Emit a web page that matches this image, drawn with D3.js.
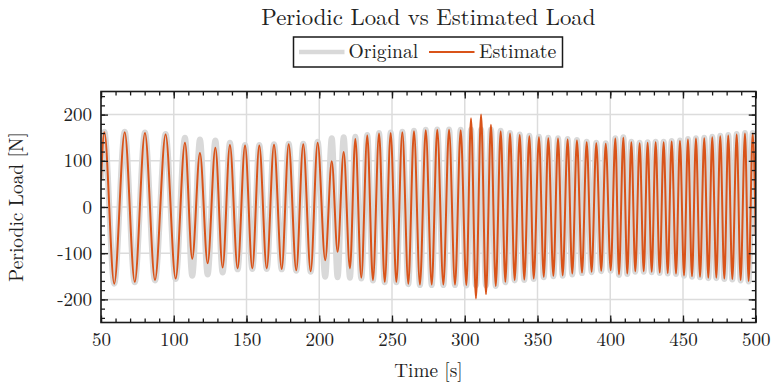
<!DOCTYPE html>
<html>
<head>
<meta charset="utf-8">
<script src="https://cdn.jsdelivr.net/npm/d3@7"></script>
<style>
  body { margin: 0; background: #fff; }
</style>
</head>
<body>
<div id="container"></div>
<script>
let w = 771;
let h = 386;
let serifFont = "'Latin Modern Roman', 'CMU Serif', 'Liberation Serif', serif";

// times of each peak / trough (first and last are the ends)
let extremaTime = [
  50.0, 52.3, 59.1, 66.3, 73.2, 80.2, 87.1, 94.4, 101.3, 107.7,
  112.7, 118.0, 123.3, 128.6, 133.6, 138.6, 143.9, 149.0, 154.0, 158.8,
  163.9, 168.9, 174.2, 179.0, 184.2, 189.0, 194.1, 198.9, 204.1, 208.6,
  212.6, 216.8, 221.1, 224.8, 228.9, 233.0, 236.9, 241.1, 245.0, 249.1,
  253.0, 257.1, 261.2, 265.1, 269.2, 273.2, 277.3, 281.1, 285.3, 289.2,
  293.3, 297.2, 301.1, 304.3, 307.7, 311.2, 314.6, 318.0, 321.3, 324.7,
  327.9, 331.1, 334.3, 337.8, 340.9, 344.4, 347.4, 351.0, 354.3, 357.4,
  360.9, 364.1, 367.3, 370.7, 373.9, 377.1, 380.6, 383.8, 387.2, 390.4,
  393.8, 396.9, 400.3, 403.5, 406.0, 409.0, 411.7, 414.5, 417.2, 420.2,
  423.0, 425.7, 428.5, 431.2, 434.0, 436.7, 439.5, 442.2, 445.2, 447.9,
  450.7, 453.4, 456.2, 458.9, 461.7, 464.6, 467.4, 470.1, 472.9, 475.6,
  478.4, 481.1, 483.9, 486.9, 489.6, 492.6, 495.1, 497.9, 500.0
];

let estimateLoad = [
  57, 162, -166, 162, -162, 160, -158, 157, -155, 139,
  -112, 117, -122, 128, -131, 134, -133, 133, -133, 133,
  -133, 135, -134, 136, -137, 136, -139, 139, -115, 99,
  -97, 119, -133, 147, -153, 155, -158, 159, -162, 160,
  -162, 162, -166, 164, -168, 166, -168, 167, -168, 167,
  -168, 166, -169, 192, -198, 200, -189, 178, -171, 164,
  -162, 159, -158, 156, -157, 153, -155, 151, -151, 149,
  -149, 148, -148, 146, -144, 144, -142, 140, -140, 138,
  -138, 137, -137, 148, -146, 150, -144, 140, -139, 138,
  -139, 139, -140, 140, -142, 140, -143, 142, -144, 143,
  -148, 146, -150, 148, -151, 149, -153, 151, -153, 153,
  -155, 155, -156, 157, -158, 159, -160, 159, -61
];

let originalLoad = [
  57, 163, -166, 163, -163, 161, -159, 158, -156, 150,
  -149, 146, -146, 144, -142, 139, -135, 134, -134, 134,
  -134, 136, -135, 137, -138, 137, -140, 141, -151, 149,
  -152, 151, -153, 152, -155, 156, -159, 160, -163, 161,
  -163, 163, -167, 165, -169, 167, -169, 168, -169, 168,
  -169, 167, -170, 168, -170, 168, -170, 168, -171, 165,
  -163, 160, -159, 157, -158, 154, -156, 152, -152, 150,
  -150, 149, -149, 147, -146, 145, -143, 141, -141, 139,
  -139, 138, -138, 149, -147, 151, -145, 141, -140, 139,
  -140, 140, -141, 141, -143, 141, -144, 143, -145, 144,
  -149, 147, -151, 149, -152, 150, -154, 152, -154, 154,
  -156, 156, -157, 158, -159, 160, -161, 160, -62
];

let xTickValues = [50, 100, 150, 200, 250, 300, 350, 400, 450, 500];
let yTickValues = [-200, -100, 0, 100, 200];
let seriesNames = ["Original", "Estimate"];

let viz = d3.select("#container")
  .append("svg")
  .attr("width", w)
  .attr("height", h)
  .style("background-color", "white")
  ;

let plotLeft = 101, plotRight = 755.75, plotTop = 91.5, plotBottom = 322.5;

let xScale = d3.scaleLinear().domain([50, 500]).range([plotLeft, plotRight]);
let yScale = d3.scaleLinear().domain([-250, 250]).range([plotBottom, plotTop]);

// grid
let grid = viz.append("g").attr("class", "grid");
grid.selectAll(".vgrid").data(xTickValues).enter()
  .append("line")
  .attr("x1", d => xScale(d)).attr("x2", d => xScale(d))
  .attr("y1", plotTop).attr("y2", plotBottom)
  .attr("stroke", "#dcdcdc").attr("stroke-width", 1.5);
grid.selectAll(".hgrid").data(yTickValues).enter()
  .append("line")
  .attr("x1", plotLeft).attr("x2", plotRight)
  .attr("y1", d => yScale(d)).attr("y2", d => yScale(d))
  .attr("stroke", "#dcdcdc").attr("stroke-width", 1.5);

viz.append("clipPath").attr("id", "plotClip")
  .append("rect")
  .attr("x", plotLeft).attr("y", plotTop)
  .attr("width", plotRight - plotLeft).attr("height", plotBottom - plotTop);

function makePoints(values) {
  return extremaTime.map((t, i) => ({ t: t, v: values[i] }));
}

let lineMaker = d3.line()
  .x(d => xScale(d.t))
  .y(d => yScale(d.v))
  .curve(d3.curveMonotoneX);

let lines = viz.append("g").attr("clip-path", "url(#plotClip)");

lines.append("path")
  .datum(makePoints(originalLoad))
  .attr("d", lineMaker)
  .attr("fill", "none")
  .attr("stroke", "#d9d9d9")
  .attr("stroke-width", 6)
  .attr("stroke-linejoin", "round");

lines.append("path")
  .datum(makePoints(estimateLoad))
  .attr("d", lineMaker)
  .attr("fill", "none")
  .attr("stroke", "#d95319")
  .attr("stroke-width", 2)
  .attr("stroke-linejoin", "round");

// AXES (ticks point inward on all four sides)
let xMinor = d3.range(50, 501, 10);
let yMinor = d3.range(-240, 241, 20);

function styleAxis(g) {
  g.select(".domain").remove();
  g.selectAll(".tick line").attr("stroke", "#1a1a1a").attr("stroke-width", 1.3);
  g.selectAll("text")
    .style("font-family", serifFont)
    .style("font-size", "19px")
    .style("fill", "#222");
}

viz.append("g").attr("transform", "translate(0," + plotBottom + ")")
  .call(d3.axisBottom(xScale).tickValues(xMinor).tickSize(-4).tickFormat(""))
  .call(styleAxis);
viz.append("g").attr("transform", "translate(0," + plotBottom + ")")
  .call(d3.axisBottom(xScale).tickValues(xTickValues).tickSize(-7).tickPadding(10))
  .call(styleAxis);
viz.append("g").attr("transform", "translate(0," + plotTop + ")")
  .call(d3.axisTop(xScale).tickValues(xMinor).tickSize(-4).tickFormat(""))
  .call(styleAxis);
viz.append("g").attr("transform", "translate(0," + plotTop + ")")
  .call(d3.axisTop(xScale).tickValues(xTickValues).tickSize(-7).tickFormat(""))
  .call(styleAxis);

viz.append("g").attr("transform", "translate(" + plotLeft + ",0)")
  .call(d3.axisLeft(yScale).tickValues(yMinor).tickSize(-4).tickFormat(""))
  .call(styleAxis);
viz.append("g").attr("transform", "translate(" + plotLeft + ",0)")
  .call(d3.axisLeft(yScale).tickValues(yTickValues).tickSize(-7).tickPadding(9).tickFormat(d => String(d)))
  .call(styleAxis);
viz.append("g").attr("transform", "translate(" + plotRight + ",0)")
  .call(d3.axisRight(yScale).tickValues(yMinor).tickSize(-4).tickFormat(""))
  .call(styleAxis);
viz.append("g").attr("transform", "translate(" + plotRight + ",0)")
  .call(d3.axisRight(yScale).tickValues(yTickValues).tickSize(-7).tickFormat(""))
  .call(styleAxis);

viz.append("rect")
  .attr("x", plotLeft).attr("y", plotTop)
  .attr("width", plotRight - plotLeft).attr("height", plotBottom - plotTop)
  .attr("fill", "none")
  .attr("stroke", "#1a1a1a")
  .attr("stroke-width", 1.6);

// labels
let midX = (plotLeft + plotRight) / 2;

function label(sel, size) {
  return sel.style("font-family", serifFont).style("font-size", size + "px").style("fill", "#222");
}

viz.append("text")
  .attr("x", midX).attr("y", 25)
  .attr("text-anchor", "middle")
  .call(label, 22.8)
  .text("Periodic Load vs Estimated Load");

viz.append("text")
  .attr("x", midX).attr("y", 377)
  .attr("text-anchor", "middle")
  .call(label, 19.2)
  .text("Time [s]");

viz.append("text")
  .attr("transform", "translate(23," + ((plotTop + plotBottom) / 2) + ") rotate(-90)")
  .attr("text-anchor", "middle")
  .call(label, 19.4)
  .text("Periodic Load [N]");

// LEGEND
let legend = viz.append("g").attr("class", "legend");
legend.append("rect")
  .attr("x", 293.5).attr("y", 37)
  .attr("width", 269).attr("height", 30)
  .attr("fill", "white")
  .attr("stroke", "#1a1a1a")
  .attr("stroke-width", 1.5);

legend.append("line")
  .attr("x1", 299).attr("x2", 344.5).attr("y1", 52).attr("y2", 52)
  .attr("stroke", "#d9d9d9").attr("stroke-width", 4.5);
legend.append("text")
  .attr("x", 348.5).attr("y", 57.5)
  .call(label, 19.6)
  .text(seriesNames[0]);

legend.append("line")
  .attr("x1", 429).attr("x2", 474.5).attr("y1", 52).attr("y2", 52)
  .attr("stroke", "#d95319").attr("stroke-width", 1.8);
legend.append("text")
  .attr("x", 479).attr("y", 57.5)
  .call(label, 19.8)
  .text(seriesNames[1]);
</script>
</body>
</html>
